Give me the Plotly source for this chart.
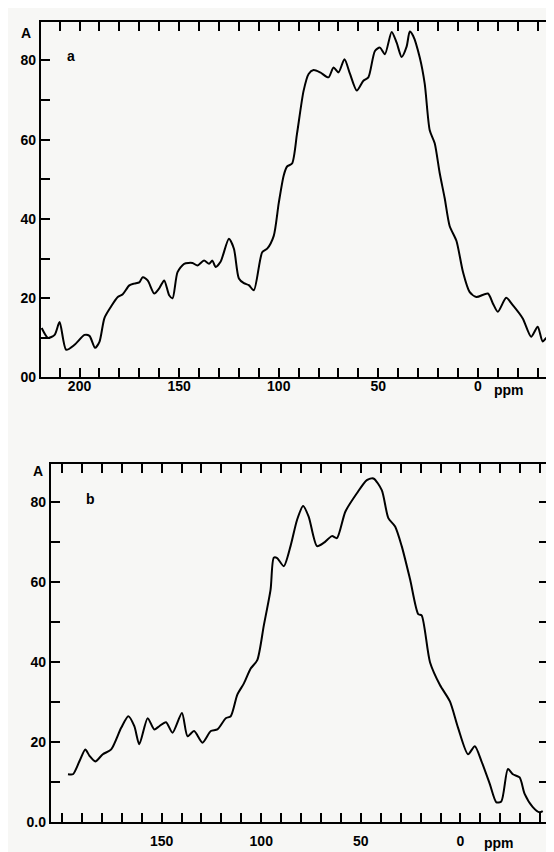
import plotly.graph_objects as go

# ---- Panel a data (chemical shift in ppm, intensity A) ----
ppm_a = [219, 215.8, 212.5, 210, 206.7, 202.5, 197.5, 195, 192.2, 190, 187.5, 184.3,
         180.8, 178.3, 175, 172.5, 170, 168.3, 165.8, 162.5, 160, 157.5, 155, 153.3,
         150.8, 147.5, 143.3, 140.8, 137.5, 135, 133.3, 131.7, 129.2, 125, 122.5, 120,
         117.5, 115, 112.5, 108.3, 105.8, 102.5, 100, 97.5, 95.8, 93.3, 90.8, 87.5,
         85, 82.5, 79.2, 75, 72.5, 70, 67, 64.2, 60.8, 57.5, 55, 51.7, 49.2, 46.7,
         43.3, 40.8, 38.3, 35.8, 34.2, 32.5, 29.2, 26.7, 24.2, 21.7, 19.2, 16.7, 14.2,
         10.8, 7.5, 4.2, 0.8, -5, -7.5, -10, -14.2, -17.5, -22.5, -26.7, -30, -32.5,
         -35, -36.7]
int_a = [12.5, 10, 10.75, 14, 7, 8.25, 10.75, 10.5, 7.5, 9, 15, 17.8,
         20.3, 21, 23.25, 23.7, 24, 25.3, 24.5, 21.2, 22.5, 24.5, 20.75, 20,
         26.6, 28.7, 28.9, 28.25, 29.5, 28.7, 29.5, 27.9, 29.2, 35, 32.5, 25,
         23.8, 23.3, 22, 31.6, 32.5, 35.75, 44, 51, 53.25, 54, 61.6, 72.4,
         76.6, 77.6, 77, 75.75, 78.25, 77, 80.3, 76.6, 72.4, 74.9, 75.75, 82.4, 83.25, 81.6,
         87.2, 84.5, 80.9, 83.5, 87.3, 86.2, 80.75, 74.1, 62.4, 59.1, 51.6, 45.3, 38.25,
         34.5, 26.6, 21.6, 20.3, 21.2, 18.7, 16.6, 20.1, 18.25, 14.9, 10.3, 12.8, 9.1,
         10.3, 10]

# ---- Panel b data ----
ppm_b = [197, 194.5, 191.2, 188.3, 186.2, 183.3, 179.5, 175.3, 170.3, 166.7, 163.7,
         161.2, 157, 153.7, 151.2, 147.8, 144.5, 139.8, 137, 133.7, 129.5, 125.3, 122,
         117.8, 115.3, 112, 108.7, 105.3, 102, 98.7, 95.3, 93.7, 92, 88.7, 85.3, 82,
         79, 76.2, 72, 68.7, 64.5, 62, 57.8, 52, 47, 43.7, 39.5, 36.2, 32.8, 29.5,
         25.3, 21.2, 19.5, 15.3, 10.3, 5.3, 1.2, -3.8, -7.2, -10.5, -14.7, -18,
         -20.5, -23.8, -26.3, -29.7, -32.2, -36.3, -39.7, -41.3]
int_b = [12, 12, 15.3, 18.2, 16.6, 15.2, 17, 18.2, 23.6, 26.5, 24,
         19.5, 26, 23.2, 24, 25, 22.4, 27.3, 21.5, 22.8, 19.9, 22.8, 23.2,
         26, 26.5, 31.9, 34.7, 38.4, 40.5, 49.2, 58.2, 66.1, 66, 64, 69, 75.6,
         79, 76.4, 69, 69.8, 71.5, 71, 77.6, 82.2, 85.5, 85.9, 83, 76, 73.9, 69,
         60.7, 52, 51.7, 40, 34.3, 30.2, 23.6, 17, 19, 15.3, 9.6, 5,
         5.2, 13.3, 12, 11.2, 7.1, 3.8, 2.5, 2.8]

# ---- Axis tick definitions ----
x_ticks_a = list(range(210, -31, -10))
x_ticks_b = list(range(200, -41, -10))
x_labels_a = {200: "200", 150: "150", 100: "100", 50: "50", 0: "0"}
x_labels_b = {150: "150", 100: "100", 50: "50", 0: "0"}
y_ticks = list(range(0, 81, 10))
y_text_a = ["00", "", "20", "", "40", "", "60", "", "80"]
y_text_b = ["0.0", "", "20", "", "40", "", "60", "", "80"]

W, H = 554, 852
FONT = dict(family="Liberation Sans", size=14, color="black", weight="bold")

def px_x(p):
    return p / W

def px_y(p):
    return 1 - p / H

fig = go.Figure()
line = dict(color="black", width=2, shape="spline", smoothing=0.7)
fig.add_trace(go.Scatter(x=ppm_a, y=int_a, mode="lines", line=line, xaxis="x", yaxis="y"))
fig.add_trace(go.Scatter(x=ppm_b, y=int_b, mode="lines", line=line, xaxis="x2", yaxis="y2"))

common_axis = dict(showline=True, linecolor="black", linewidth=2, mirror="ticks",
                   ticks="inside", ticklen=9, tickwidth=1.6, tickcolor="black",
                   showgrid=False, zeroline=False, tickfont=FONT)

fig.update_layout(
    width=W, height=H,
    margin=dict(l=0, r=0, t=0, b=0),
    paper_bgcolor="#f7f7f5", plot_bgcolor="#f7f7f5",
    showlegend=False,
    xaxis=dict(domain=[px_x(33), 1.0], range=[219.4, -41.2], anchor="y",
               tickvals=x_ticks_a, ticktext=[x_labels_a.get(v, "") for v in x_ticks_a],
               ticklabelstandoff=-5, **common_axis),
    yaxis=dict(domain=[px_y(373), px_y(14)], range=[0, 89.75], anchor="x",
               tickvals=y_ticks, ticktext=y_text_a, **common_axis),
    xaxis2=dict(domain=[px_x(43), px_x(541.7)], range=[205.6, -43.8], anchor="y2",
                tickvals=x_ticks_b, ticktext=[x_labels_b.get(v, "") for v in x_ticks_b],
                ticklabelstandoff=5, **common_axis),
    yaxis2=dict(domain=[px_y(822), px_y(460)], range=[0, 89.6], anchor="x2",
                tickvals=y_ticks, ticktext=y_text_b, **common_axis),
)

annots = [
    dict(text="ppm", x=px_x(503), y=px_y(386)),
    dict(text="A", x=px_x(18), y=px_y(25)),
    dict(text="a", x=px_x(63), y=px_y(48)),
    dict(text="ppm", x=px_x(493), y=px_y(843)),
    dict(text="A", x=px_x(30), y=px_y(467)),
    dict(text="b", x=px_x(83), y=px_y(496)),
]
for a in annots:
    fig.add_annotation(xref="paper", yref="paper", showarrow=False,
                       xanchor="center", yanchor="middle", font=FONT, **a)

fig.write_html("out.html")
